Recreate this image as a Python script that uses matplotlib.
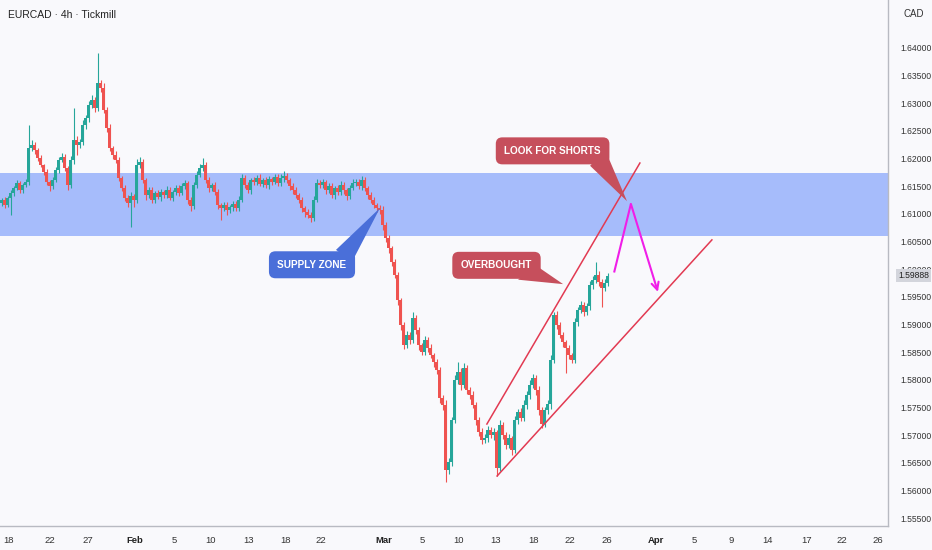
import matplotlib
matplotlib.use("Agg")
import matplotlib.pyplot as plt
import numpy as np
from matplotlib.patches import Polygon
import matplotlib.transforms as mtransforms

plt.rcParams['font.family'] = ['Liberation Sans', 'DejaVu Sans']

# ---------------- data (EURCAD 4h) ----------------
first_open = 1.6120
closes = [
    1.6125, 1.6116, 1.6129, 1.6138, 1.6147, 1.6156, 1.6143, 1.6152, 1.6158, 1.6219,
    1.6225, 1.6216, 1.6201, 1.6188, 1.6176, 1.6158, 1.6150, 1.6161, 1.6180, 1.6198,
    1.6203, 1.6183, 1.6152, 1.6198, 1.6234, 1.6225, 1.6230, 1.6261, 1.6273, 1.6297,
    1.6306, 1.6292, 1.6337, 1.6328, 1.6288, 1.6255, 1.6219, 1.6207, 1.6198, 1.6165,
    1.6147, 1.6129, 1.6120, 1.6132, 1.6125, 1.6188, 1.6194, 1.6161, 1.6134, 1.6143,
    1.6125, 1.6138, 1.6131, 1.6140, 1.6134, 1.6143, 1.6129, 1.6140, 1.6147, 1.6138,
    1.6150, 1.6156, 1.6125, 1.6114, 1.6152, 1.6170, 1.6183, 1.6188, 1.6161, 1.6147,
    1.6152, 1.6140, 1.6116, 1.6111, 1.6116, 1.6107, 1.6112, 1.6118, 1.6111, 1.6125,
    1.6165, 1.6152, 1.6143, 1.6161, 1.6158, 1.6165, 1.6154, 1.6161, 1.6152, 1.6163,
    1.6158, 1.6167, 1.6156, 1.6165, 1.6169, 1.6161, 1.6150, 1.6143, 1.6134, 1.6125,
    1.6111, 1.6103, 1.6098, 1.6093, 1.6125, 1.6156, 1.6152, 1.6158, 1.6143, 1.6150,
    1.6134, 1.6147, 1.6140, 1.6152, 1.6143, 1.6132, 1.6147, 1.6156, 1.6158, 1.6150,
    1.6161, 1.6147, 1.6134, 1.6125, 1.6116, 1.6111, 1.6107, 1.6080, 1.6056, 1.6038,
    1.6013, 1.5990, 1.5944, 1.5899, 1.5863, 1.5881, 1.5872, 1.5912, 1.5890, 1.5863,
    1.5850, 1.5872, 1.5858, 1.5845, 1.5832, 1.5818, 1.5767, 1.5755, 1.5637, 1.5651,
    1.5727, 1.5800, 1.5814, 1.5791, 1.5821, 1.5782, 1.5773, 1.5755, 1.5727, 1.5706,
    1.5691, 1.5695, 1.5709, 1.5700, 1.5706, 1.5641, 1.5718, 1.5700, 1.5682, 1.5695,
    1.5673, 1.5727, 1.5742, 1.5731, 1.5755, 1.5773, 1.5791, 1.5803, 1.5782, 1.5745,
    1.5720, 1.5745, 1.5756, 1.5836, 1.5917, 1.5899, 1.5881, 1.5868, 1.5858, 1.5845,
    1.5836, 1.5904, 1.5926, 1.5935, 1.5923, 1.5933, 1.5971, 1.5980, 1.5990, 1.5977,
    1.5966, 1.5975, 1.5988]
upper_wick_pips = [
    4, 5, 3, 6, 4, 5, 3, 4, 6, 42,
    8, 5, 4, 6, 3, 5, 4, 6, 5, 4,
    7, 5, 4, 6, 58, 6, 5, 8, 6, 7,
    9, 5, 54, 6, 8, 5, 7, 4, 6, 5,
    4, 6, 5, 8, 4, 12, 9, 5, 4, 6,
    5, 4, 6, 5, 4, 7, 5, 4, 6, 5,
    6, 5, 4, 5, 6, 8, 7, 13, 6, 5,
    4, 6, 5, 4, 6, 5, 4, 6, 5, 7,
    8, 6, 5, 4, 6, 5, 7, 4, 6, 5,
    4, 6, 5, 7, 8, 5, 4, 5, 6, 4,
    5, 4, 6, 5, 7, 8, 5, 6, 4, 5,
    6, 4, 5, 7, 5, 4, 6, 8, 5, 6,
    7, 5, 4, 6, 5, 4, 5, 8, 6, 5,
    4, 6, 5, 4, 6, 8, 5, 10, 6, 5,
    4, 7, 5, 6, 4, 5, 6, 5, 8, 7,
    6, 9, 18, 7, 10, 6, 5, 6, 4, 5,
    6, 7, 8, 5, 6, 4, 9, 6, 5, 7,
    4, 8, 6, 7, 9, 6, 8, 7, 5, 6,
    5, 6, 7, 9, 6, 8, 5, 6, 4, 5,
    4, 8, 6, 7, 5, 6, 8, 7, 23, 6,
    5, 7, 6]
lower_wick_pips = [
    5, 6, 4, 31, 5, 4, 6, 5, 4, 6,
    5, 7, 6, 4, 5, 6, 8, 5, 4, 6,
    5, 6, 8, 5, 7, 18, 6, 5, 7, 6,
    5, 8, 6, 7, 5, 6, 5, 7, 6, 5,
    6, 5, 7, 44, 12, 6, 5, 6, 8, 5,
    6, 5, 4, 7, 5, 6, 4, 5, 6, 5,
    4, 5, 7, 8, 6, 5, 4, 5, 6, 7,
    5, 6, 8, 22, 6, 9, 5, 7, 6, 5,
    4, 6, 5, 7, 5, 6, 4, 5, 6, 7,
    5, 4, 6, 5, 7, 5, 6, 7, 5, 6,
    7, 8, 6, 8, 5, 4, 6, 5, 7, 6,
    5, 7, 6, 5, 7, 6, 5, 4, 6, 5,
    6, 5, 7, 6, 5, 8, 7, 9, 6, 8,
    7, 6, 8, 9, 7, 6, 8, 5, 7, 9,
    6, 5, 7, 6, 8, 7, 9, 10, 22, 8,
    7, 6, 8, 9, 6, 7, 8, 6, 9, 7,
    8, 6, 7, 5, 8, 15, 6, 7, 8, 6,
    9, 6, 7, 5, 6, 8, 7, 6, 9, 8,
    7, 5, 6, 8, 5, 7, 6, 8, 46, 7,
    6, 5, 7, 6, 8, 5, 7, 6, 5, 8,
    34, 6, 5]

last_price = 1.59888
supply_zone = (1.6060, 1.6174)

price_ticks = [1.555, 1.560, 1.565, 1.570, 1.575, 1.580, 1.585, 1.590, 1.595,
               1.600, 1.605, 1.610, 1.615, 1.620, 1.625, 1.630, 1.635, 1.640]
date_tick_labels = ['18', '22', '27', 'Feb', '5', '10', '13', '18', '22', 'Mar', '5', '10',
                    '13', '18', '22', '26', 'Apr', '5', '9', '14', '17', '22', '26']
date_tick_pos = [2.2, 16.2, 28.8, 44.5, 57.5, 69.8, 82.5, 94.8, 106.5, 127.5, 140.2, 152.5,
                 164.8, 177.5, 189.5, 201.8, 218.2, 230.8, 243.2, 255.5, 268.2, 280.2, 292.2]

# drawings (bar index, price)
channel_upper_x = [161.8, 212.8]
channel_upper_y = [1.5720, 1.6192]
channel_lower_x = [165.2, 236.8]
channel_lower_y = [1.5626, 1.6053]
path_x = [204.2, 209.8, 218.8]
path_y = [1.5994, 1.6118, 1.5959]

# ---------------- figure ----------------
BG = '#f9f9fc'
UP = '#26a69a'
DN = '#ef5350'
W, H = 932, 550
fig = plt.figure(figsize=(W / 100, H / 100), dpi=100, facecolor=BG)
ax = fig.add_axes([0, 24 / H, 888 / W, 526 / H])
ax.set_facecolor(BG)

c = np.array(closes)
o = np.array([first_open] + closes[:-1])
hi = np.maximum(o, c) + np.array(upper_wick_pips) * 0.0001
lo = np.minimum(o, c) - np.array(lower_wick_pips) * 0.0001
x = np.arange(len(c))
col = np.where(c >= o, UP, DN)

ax.axhspan(supply_zone[0], supply_zone[1], color='#a6bcfb', zorder=1, lw=0)
ax.vlines(x, lo, hi, colors=col, lw=0.8, zorder=2)
body_h = np.maximum(np.abs(c - o), 0.00008)
ax.bar(x, body_h, bottom=np.minimum(o, c), width=0.72, color=col, lw=0, zorder=3)

# channel lines
ax.plot(channel_upper_x, channel_upper_y, color='#e23a52', lw=1.1, zorder=4)
ax.plot(channel_lower_x, channel_lower_y, color='#e23a52', lw=1.1, zorder=4)

# magenta projection
MAG = '#f01ee8'
ax.plot(path_x[:2], path_y[:2], color=MAG, lw=1.5, zorder=5, solid_capstyle='butt')
ax.annotate('', xy=(path_x[2], path_y[2]), xytext=(path_x[1], path_y[1]),
            arrowprops=dict(arrowstyle='->', color=MAG, lw=1.5, mutation_scale=13,
                            shrinkA=0, shrinkB=0), zorder=5)

# callouts
def callout(text, cx, cy, poly, fc):
    ax.add_patch(Polygon(poly, closed=True, fc=fc, ec='none', zorder=6))
    ax.text(cx, cy, text, ha='center', va='center', color='white', fontsize=7.2,
            fontweight='bold', zorder=7,
            bbox=dict(boxstyle='round,pad=0.85,rounding_size=0.65', fc=fc, ec='none'))

BLUE = '#4a6fd9'
RED = '#c64f5c'
callout('SUPPLY ZONE', 103.5, 1.6008, [(111.5, 1.6035), (116.8, 1.6013), (126.2, 1.6111)], BLUE)
callout('OVERBOUGHT', 165.0, 1.6007, [(172.2, 1.5981), (177.8, 1.6008), (187.2, 1.5973)], RED)
callout('LOOK FOR SHORTS', 183.7, 1.6214, [(196.2, 1.6187), (201.2, 1.6216), (208.5, 1.6123)], RED)

# axes
ax.set_xlim(-0.5, 295.5)
ax.set_ylim(1.55356, 1.64868)
for s in ['top', 'left']:
    ax.spines[s].set_visible(False)
for s in ['right', 'bottom']:
    ax.spines[s].set_color('#b8bac2')
    ax.spines[s].set_linewidth(1.0)

ax.yaxis.tick_right()
ax.set_yticks(price_ticks)
ax.set_yticklabels([f'{p:.5f}' for p in price_ticks])
ax.tick_params(axis='y', length=0, pad=9, labelsize=6.2, labelcolor='#333333')
ax.set_xticks(date_tick_pos)
ax.set_xticklabels(date_tick_labels)
ax.tick_params(axis='x', length=0, pad=7, labelsize=6.8, labelcolor='#333333')
for lab in ax.get_xticklabels():
    if lab.get_text() in ('Feb', 'Mar', 'Apr'):
        lab.set_fontweight('bold')
        lab.set_color('#222222')

# last price label
trans = mtransforms.blended_transform_factory(ax.transAxes, ax.transData)
ax.text(1.0 + 10 / 888, last_price, f'{last_price:.5f}', transform=trans, ha='left', va='center',
        fontsize=6.2, color='#222222', zorder=10, clip_on=False,
        bbox=dict(boxstyle='square,pad=0.25', fc='#d3d5dc', ec='none'))

fig.text(8 / W, 1 - 15 / H, 'EURCAD · 4h · Tickmill', fontsize=7.5, color='#222222',
         ha='left', va='center')
fig.text(903 / W, 1 - 14 / H, 'CAD', fontsize=7, color='#333333', ha='left', va='center')

fig.savefig('out.png', dpi=100, facecolor=BG)
